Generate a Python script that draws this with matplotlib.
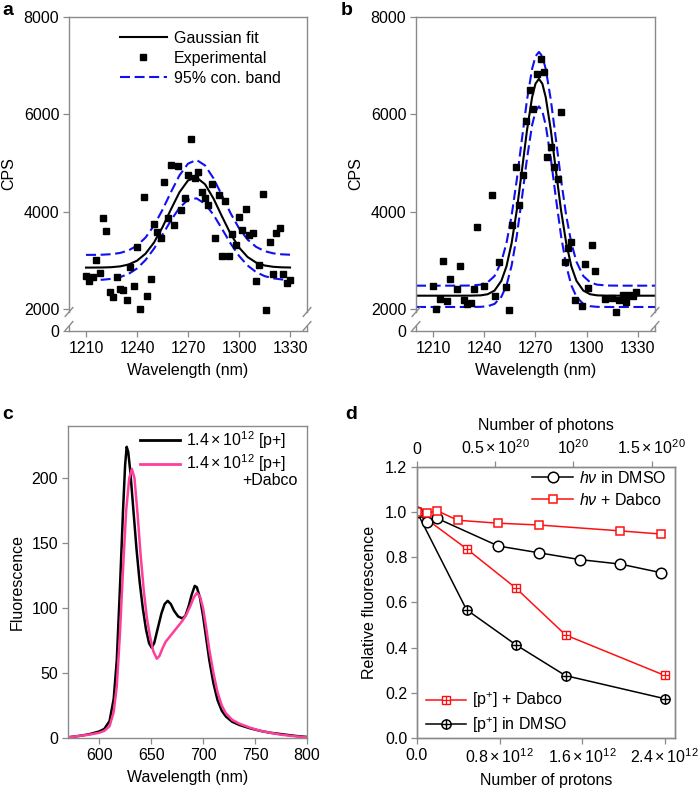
import matplotlib
matplotlib.use('Agg')
import matplotlib.pyplot as plt
from matplotlib.lines import Line2D
from matplotlib.ticker import FormatStrFormatter

plt.rcParams['font.family'] = ['Liberation Sans', 'DejaVu Sans']
plt.rcParams['mathtext.fontset'] = 'custom'
plt.rcParams['mathtext.rm'] = 'Liberation Sans'
plt.rcParams['mathtext.it'] = 'Liberation Sans:italic'
plt.rcParams['mathtext.bf'] = 'Liberation Sans:bold'
plt.rcParams['font.size'] = 11.5

# ---------------- data: panel a ----------------
a_exp_wl = [1210, 1212, 1214, 1216, 1218, 1220, 1222, 1224, 1226, 1228,
            1230, 1232, 1234, 1236, 1238, 1240, 1242, 1244, 1246, 1248,
            1250, 1252, 1254, 1256, 1258, 1260, 1262, 1264, 1266, 1268,
            1270, 1272, 1274, 1276, 1278, 1280, 1282, 1284, 1286, 1288,
            1290, 1292, 1294, 1296, 1298, 1300, 1302, 1304, 1306, 1308,
            1310, 1312, 1314, 1316, 1318, 1320, 1322, 1324, 1326, 1328, 1330]
a_exp_cps = [2678, 2582, 2651, 3007, 2734, 3870, 3609, 2343, 2247, 2651,
             2411, 2390, 2185, 2869, 2479, 3268, 1994, 4308, 2261, 2617,
             3741, 3576, 3459, 4610, 3876, 4959, 3726, 4945, 4034, 4287,
             4743, 5494, 4686, 4809, 4411, 4275, 4143, 4569, 3459, 4343,
             3089, 4219, 3089, 3541, 3315, 3897, 3623, 4049, 3521, 3568,
             2582, 2904, 4357, 1979, 3377, 2713, 3562, 3665, 2719, 2528, 2603]
a_fit_wl = [1210, 1215, 1220, 1225, 1230, 1235, 1240, 1245, 1250, 1255,
            1260, 1265, 1270, 1275, 1280, 1285, 1290, 1295, 1300, 1305,
            1310, 1315, 1320, 1325, 1330]
a_fit = [2850, 2851, 2853, 2859, 2875, 2913, 2992, 3136, 3366, 3682,
         4050, 4400, 4641, 4702, 4563, 4268, 3900, 3546, 3263, 3069,
         2954, 2894, 2867, 2856, 2852]
a_upper = [3111, 3112, 3116, 3126, 3151, 3203, 3301, 3467, 3715, 4039,
           4404, 4747, 4986, 5062, 4950, 4684, 4331, 3969, 3658, 3427,
           3277, 3189, 3144, 3123, 3115]
a_lower = [2592, 2595, 2602, 2619, 2654, 2720, 2832, 3005, 3240, 3525,
           3823, 4081, 4244, 4273, 4161, 3934, 3645, 3349, 3091, 2894,
           2759, 2676, 2630, 2607, 2597]

# ---------------- data: panel b ----------------
b_exp_wl = [1210, 1212, 1214, 1216, 1218, 1220, 1224, 1226, 1228, 1230,
            1232, 1234, 1236, 1240, 1244.5, 1246.5, 1248.5, 1252.5, 1254.5, 1256.5,
            1258.5, 1260.5, 1262.5, 1264.5, 1266.5, 1268.5, 1271, 1273, 1275, 1277,
            1279, 1281, 1283, 1285, 1287, 1289, 1291, 1293, 1297, 1299,
            1301, 1303, 1305, 1311, 1315, 1317, 1319, 1321, 1323, 1325, 1327, 1329]
b_exp_cps = [2479, 2000, 2206, 2986, 2156, 2617, 2411, 2884, 2177, 2109,
             2123, 2411, 3677, 2479, 4349, 2259, 2958, 2452, 1986, 3718,
             4918, 4137, 4745, 5870, 6507, 6116, 6829, 7138, 6877, 5115,
             5321, 4918, 4678, 6040, 2966, 3260, 3383, 2191, 2053, 2917,
             2438, 3315, 2773, 2206, 2226, 1930, 2177, 2279, 2136, 2294, 2259, 2349]
b_fit_wl = [1200, 1215, 1225, 1232, 1238, 1242, 1246, 1250, 1253, 1256,
            1259, 1262, 1265, 1268, 1270, 1272, 1274, 1276, 1279, 1282,
            1285, 1288, 1291, 1294, 1298, 1302, 1306, 1312, 1320, 1340]
b_fit = [2273, 2273, 2273, 2274, 2280, 2303, 2378, 2578, 2876, 3352,
         4019, 4833, 5668, 6349, 6629, 6727, 6629, 6349, 5668, 4833,
         4019, 3352, 2876, 2578, 2378, 2303, 2280, 2274, 2273, 2273]
b_upper = [2479, 2479, 2479, 2482, 2500, 2548, 2677, 2970, 3355, 3917,
           4645, 5476, 6291, 6932, 7191, 7281, 7191, 6932, 6291, 5476,
           4645, 3917, 3355, 2970, 2677, 2548, 2500, 2482, 2479, 2479]
b_lower = [2041, 2041, 2041, 2041, 2044, 2057, 2104, 2249, 2485, 2890,
           3493, 4265, 5087, 5776, 6062, 6163, 6062, 5776, 5087, 4265,
           3493, 2890, 2485, 2249, 2104, 2057, 2044, 2041, 2041, 2041]

# ---------------- data: panel c ----------------
c_black_wl = [570, 580, 590, 600, 605, 610, 614, 617, 620, 623,
              625, 626.5, 628, 630, 633, 636, 639, 642, 645, 648,
              650.5, 653, 656, 660, 663, 666, 669, 672, 676, 680,
              683, 686, 689, 692, 694, 697, 700, 703, 706, 710,
              714, 718, 722, 728, 735, 745, 755, 765, 775, 790, 800]
c_black = [0.5, 1.5, 2.8, 5, 7, 13, 30, 60, 115, 175,
           210, 224, 220, 205, 175, 145, 120, 100, 84, 73,
           69.5, 73, 83, 96, 103, 105.5, 103, 98, 93.5, 92,
           94, 101, 110, 117, 116, 108, 94, 77, 60, 42,
           29, 21, 16.5, 12.5, 10, 7.5, 5.5, 4, 3, 1.5, 0.8]
c_pink_wl = [570, 580, 590, 600, 605, 610, 614, 617, 620, 623,
             626, 629, 631.5, 634, 637, 640, 643, 646, 649, 652,
             655.5, 658, 661, 664, 668, 672, 676, 680, 684, 688,
             691, 694, 697, 700, 703, 706, 710, 714, 718, 722,
             728, 735, 745, 755, 765, 775, 790, 800]
c_pink = [0.5, 1.5, 2.5, 4, 5.5, 9, 20, 40, 80, 130,
          175, 200, 207, 200, 172, 140, 113, 92, 78, 67,
          61, 63, 69, 74, 78, 82, 86, 90, 95, 102,
          108, 111.5, 109, 100, 85, 68, 50, 35, 25, 19,
          14, 11, 8, 5.5, 4, 2.5, 1.2, 0.5]
c_labels = [r'$1.4\times10^{12}$ [p+]', r'$1.4\times10^{12}$ [p+]']
c_extra = '+Dabco'

# ---------------- data: panel d ----------------
photons_dmso = [0, 0.065e20, 0.13e20, 0.52e20, 0.78e20, 1.04e20, 1.30e20, 1.56e20]
rel_hv_dmso = [1.0, 0.955, 0.972, 0.850, 0.820, 0.790, 0.770, 0.732]
photons_dabco = [0, 0.065e20, 0.13e20, 0.26e20, 0.52e20, 0.78e20, 1.30e20, 1.56e20]
rel_hv_dabco = [1.0, 0.996, 1.006, 0.964, 0.951, 0.943, 0.917, 0.903]
protons = [0, 0.48e12, 0.96e12, 1.44e12, 2.40e12]
rel_p_dabco = [1.0, 0.838, 0.663, 0.456, 0.277]
rel_p_dmso = [1.0, 0.568, 0.412, 0.276, 0.174]
proton_ticks = [0, 0.8e12, 1.6e12, 2.4e12]
proton_ticklabels = ['0.0', r'$0.8\times10^{12}$', r'$1.6\times10^{12}$', r'$2.4\times10^{12}$']
photon_ticks = [0, 0.5e20, 1.0e20, 1.5e20]
photon_ticklabels = ['0', r'$0.5\times10^{20}$', r'$10^{20}$', r'$1.5\times10^{20}$']

# ---------------- style ----------------
GREY = '#8a8a8a'
BLUE = '#1010f0'
PINK = '#ff3d9a'
RED = '#ff1010'
FS = 11.5

fig = plt.figure(figsize=(7, 7.92), dpi=100)


def style_axes(ax):
    for s in ax.spines.values():
        s.set_color(GREY)
        s.set_linewidth(1.0)
    ax.tick_params(direction='out', length=4, width=0.9, color=GREY,
                   labelcolor='black', labelsize=FS, pad=3)


ZERO_POS = 1548      # where the "0" of the broken CPS axis sits
BREAK_HI = 1938
BREAK_LO = 1650
CPS_TICKS = [2000, 4000, 6000, 8000]


def broken_cps_axis(ax):
    ax.set_ylim(ZERO_POS, 8000)
    ax.set_yticks([ZERO_POS] + CPS_TICKS)
    ax.set_yticklabels(['0'] + [str(t) for t in CPS_TICKS])
    ax.spines['left'].set_bounds(BREAK_HI, 8000)
    ax.spines['right'].set_bounds(BREAK_HI, 8000)
    tr = ax.get_yaxis_transform()
    span = 8000 - ZERO_POS
    for xs in (0, 1):
        ax.add_line(Line2D([xs, xs], [ZERO_POS, BREAK_LO], transform=tr,
                           color=GREY, lw=1.0, clip_on=False))
        for yc in (BREAK_HI, BREAK_LO):
            f = (yc - ZERO_POS) / span
            ax.add_line(Line2D([xs - 0.016, xs + 0.016], [f - 0.014, f + 0.014],
                               transform=ax.transAxes, color=GREY, lw=1.0,
                               clip_on=False))


# ---------------- panel a ----------------
axa = fig.add_axes([0.0986, 0.5821, 0.34, 0.3965])
style_axes(axa)
h_up, = axa.plot(a_fit_wl, a_upper, color=BLUE, lw=1.5, dashes=(4.8, 2.2))
axa.plot(a_fit_wl, a_lower, color=BLUE, lw=1.5, dashes=(4.8, 2.2))
h_fit, = axa.plot(a_fit_wl, a_fit, color='black', lw=1.5)
h_exp, = axa.plot(a_exp_wl, a_exp_cps, 's', color='black', ms=4.3)
axa.set_xlim(1200, 1340)
axa.set_xticks([1210, 1240, 1270, 1300, 1330])
broken_cps_axis(axa)
axa.set_ylabel('CPS', fontsize=FS, labelpad=5)
axa.set_xlabel('Wavelength (nm)', fontsize=FS, labelpad=5)
axa.legend([h_fit, h_exp, h_up], ['Gaussian fit', 'Experimental', '95% con. band'],
           loc='upper left', bbox_to_anchor=(0.215, 0.955), frameon=False,
           borderpad=0, borderaxespad=0, handlelength=2.9, handletextpad=0.45,
           labelspacing=0.3, numpoints=1, fontsize=FS)

# ---------------- panel b ----------------
axb = fig.add_axes([0.5943, 0.5821, 0.3414, 0.3965])
style_axes(axb)
axb.plot(b_fit_wl, b_upper, color=BLUE, lw=1.5, dashes=(4.8, 2.2))
axb.plot(b_fit_wl, b_lower, color=BLUE, lw=1.5, dashes=(4.8, 2.2))
axb.plot(b_fit_wl, b_fit, color='black', lw=1.5)
axb.plot(b_exp_wl, b_exp_cps, 's', color='black', ms=4.3)
axb.set_xlim(1200, 1340)
axb.set_xticks([1210, 1240, 1270, 1300, 1330])
broken_cps_axis(axb)
axb.set_ylabel('CPS', fontsize=FS, labelpad=5)
axb.set_xlabel('Wavelength (nm)', fontsize=FS, labelpad=5)

# ---------------- panel c ----------------
axc = fig.add_axes([0.0971, 0.0682, 0.3414, 0.3939])
style_axes(axc)
hc1, = axc.plot(c_black_wl, c_black, color='black', lw=1.8)
hc2, = axc.plot(c_pink_wl, c_pink, color=PINK, lw=1.8)
axc.set_xlim(570, 800)
axc.set_ylim(0, 240)
axc.set_xticks([600, 650, 700, 750, 800])
axc.set_yticks([0, 50, 100, 150, 200])
axc.set_ylabel('Fluorescence', fontsize=FS, labelpad=5)
axc.set_xlabel('Wavelength (nm)', fontsize=FS, labelpad=5)
legc = axc.legend([hc1, hc2], c_labels, loc='upper left', bbox_to_anchor=(0.3, 0.99),
                  frameon=False, borderpad=0, borderaxespad=0, handlelength=2.5,
                  handletextpad=0.4, labelspacing=0.1, fontsize=FS)
for lh in legc.get_lines():
    lh.set_linewidth(2.0)
axc.text(0.962, 0.825, c_extra, transform=axc.transAxes, ha='right', va='center',
         fontsize=FS)

# ---------------- panel d ----------------
axd = fig.add_axes([0.5957, 0.0682, 0.3686, 0.3422])
style_axes(axd)
axt = axd.twiny()
style_axes(axt)

hpd_l, = axd.plot(protons, rel_p_dabco, color=RED, lw=1.1, marker='s', ms=5.4,
                  mfc='white', mec=RED, mew=1.0, zorder=3)
hpd_p, = axd.plot(protons, rel_p_dabco, ls='none', marker='+', ms=5.4, mec=RED,
                  mew=0.9, zorder=4)
hpm_l, = axd.plot(protons, rel_p_dmso, color='black', lw=1.1, marker='o', ms=6.6,
                  mfc='white', mec='black', mew=1.1, zorder=3)
hpm_p, = axd.plot(protons, rel_p_dmso, ls='none', marker='+', ms=6.6, mec='black',
                  mew=1.0, zorder=4)
hhv1, = axt.plot(photons_dmso, rel_hv_dmso, color='black', lw=1.1, marker='o', ms=7.6,
                 mfc='white', mec='black', mew=1.1)
hhv2, = axt.plot(photons_dabco, rel_hv_dabco, color=RED, lw=1.1, marker='s', ms=6.3,
                 mfc='white', mec=RED, mew=1.1)

axd.set_xlim(0, 2.5e12)
axd.set_ylim(0, 1.2)
axd.set_yticks([0, 0.2, 0.4, 0.6, 0.8, 1.0, 1.2])
axd.yaxis.set_major_formatter(FormatStrFormatter('%.1f'))
axd.set_xticks(proton_ticks)
axd.set_xticklabels(proton_ticklabels)
axt.set_xlim(0, 1.65e20)
axt.set_xticks(photon_ticks)
axt.set_xticklabels(photon_ticklabels)
axd.set_ylabel('Relative fluorescence', fontsize=FS, labelpad=6)
axd.set_xlabel('Number of protons', fontsize=FS, labelpad=5)
axt.set_xlabel('Number of photons', fontsize=FS, labelpad=6)

leg1 = axt.legend([hhv1, hhv2], [r'$h\nu$ in DMSO', r'$h\nu$ + Dabco'],
                  loc='upper left', bbox_to_anchor=(0.445, 0.99), frameon=False,
                  borderpad=0, borderaxespad=0, handlelength=2.6, handletextpad=0.35,
                  labelspacing=0.4, fontsize=FS)
axt.add_artist(leg1)
axt.legend([(hpd_l, hpd_p), (hpm_l, hpm_p)],
           [r'[p$^{+}$] + Dabco', r'[p$^{+}$] in DMSO'],
           loc='upper left', bbox_to_anchor=(0.035, 0.175), frameon=False,
           borderpad=0, borderaxespad=0, handlelength=2.5, handletextpad=0.35,
           labelspacing=0.3, fontsize=FS)

# ---------------- panel letters ----------------
for x, y, s in [(0.003, 0.997, 'a'), (0.487, 0.997, 'b'),
                (0.003, 0.487, 'c'), (0.493, 0.487, 'd')]:
    fig.text(x, y, s, fontsize=14, fontweight='bold', va='top', ha='left')

fig.savefig('out.png', dpi=100)
